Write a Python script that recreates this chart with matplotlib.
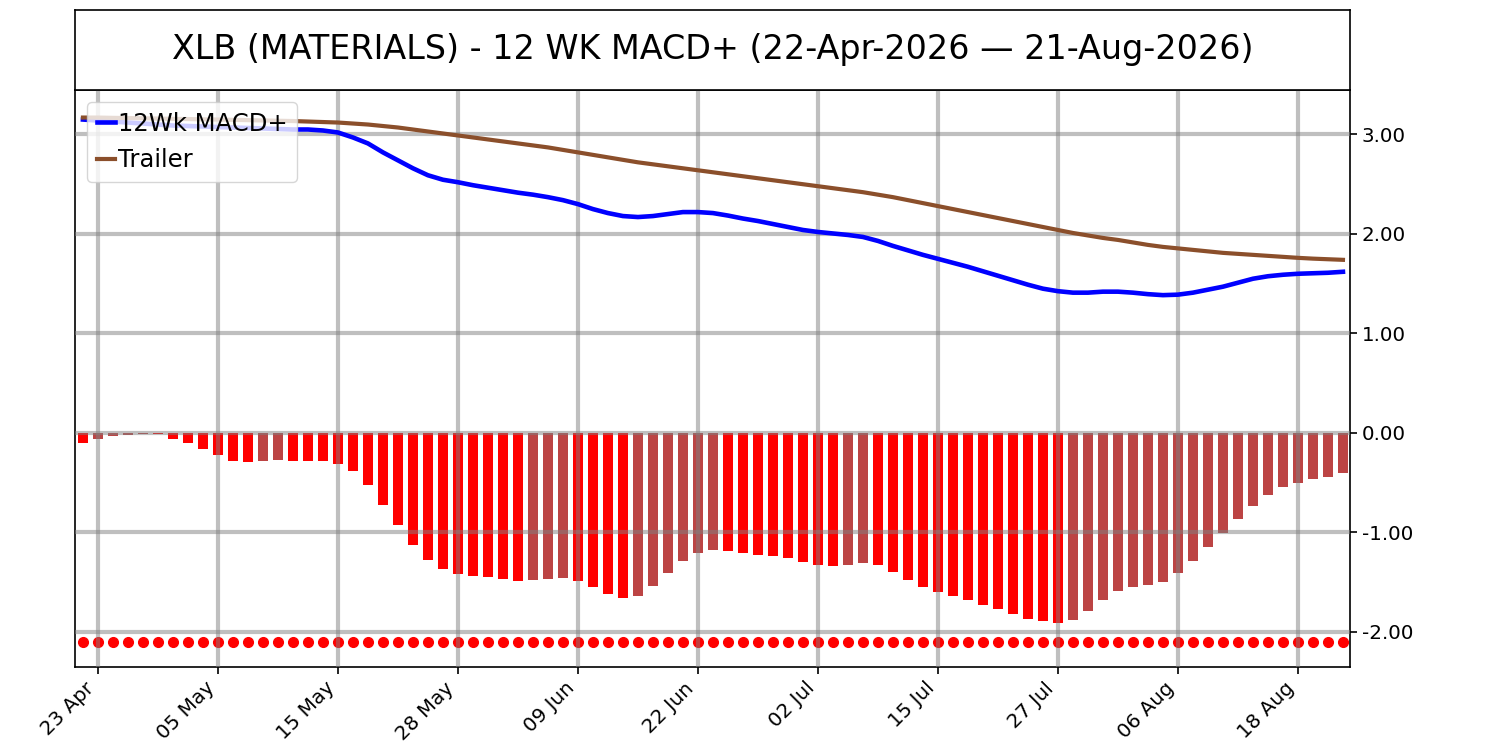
import matplotlib
matplotlib.use("Agg")
import matplotlib.pyplot as plt
import numpy as np

# ---------------- data ----------------
tick_labels = ["23 Apr", "05 May", "15 May", "28 May", "09 Jun", "22 Jun",
               "02 Jul", "15 Jul", "27 Jul", "06 Aug", "18 Aug"]
tick_index = [1, 9, 17, 25, 33, 41, 49, 57, 65, 73, 81]

macd = [3.15, 3.14, 3.13, 3.12, 3.11, 3.10, 3.09, 3.085, 3.08, 3.075,
        3.07, 3.065, 3.06, 3.055, 3.05, 3.05, 3.04, 3.02, 2.97, 2.91,
        2.82, 2.74, 2.66, 2.59, 2.545, 2.52, 2.49, 2.465, 2.44, 2.415,
        2.395, 2.37, 2.34, 2.30, 2.25, 2.21, 2.18, 2.17, 2.18, 2.20,
        2.22, 2.22, 2.21, 2.185, 2.155, 2.13, 2.10, 2.07, 2.04, 2.02,
        2.005, 1.99, 1.97, 1.93, 1.88, 1.835, 1.79, 1.75, 1.71, 1.67,
        1.625, 1.58, 1.535, 1.49, 1.45, 1.425, 1.41, 1.41, 1.42, 1.42,
        1.41, 1.395, 1.385, 1.39, 1.41, 1.44, 1.47, 1.51, 1.55, 1.575,
        1.59, 1.60, 1.605, 1.61, 1.62]

trailer = [3.17, 3.17, 3.167, 3.165, 3.163, 3.16, 3.157, 3.155, 3.152, 3.15,
           3.147, 3.144, 3.141, 3.138, 3.135, 3.13, 3.125, 3.12, 3.11, 3.10,
           3.085, 3.07, 3.05, 3.03, 3.01, 2.99, 2.97, 2.95, 2.93, 2.91,
           2.89, 2.87, 2.845, 2.82, 2.795, 2.77, 2.745, 2.72, 2.70, 2.68,
           2.66, 2.64, 2.62, 2.60, 2.58, 2.56, 2.54, 2.52, 2.50, 2.48,
           2.46, 2.44, 2.42, 2.395, 2.37, 2.34, 2.31, 2.28, 2.25, 2.22,
           2.19, 2.16, 2.13, 2.10, 2.07, 2.04, 2.01, 1.985, 1.96, 1.94,
           1.915, 1.89, 1.87, 1.855, 1.84, 1.825, 1.81, 1.80, 1.79, 1.78,
           1.77, 1.76, 1.752, 1.746, 1.74]

hist = [-0.10, -0.06, -0.03, -0.02, -0.01, -0.015, -0.06, -0.10, -0.16, -0.22,
        -0.28, -0.29, -0.28, -0.275, -0.28, -0.282, -0.285, -0.31, -0.38, -0.52,
        -0.72, -0.93, -1.13, -1.28, -1.37, -1.42, -1.44, -1.45, -1.47, -1.485,
        -1.48, -1.465, -1.46, -1.49, -1.55, -1.62, -1.66, -1.64, -1.54, -1.41,
        -1.29, -1.21, -1.18, -1.19, -1.21, -1.23, -1.24, -1.26, -1.30, -1.33,
        -1.34, -1.33, -1.31, -1.33, -1.40, -1.48, -1.55, -1.60, -1.64, -1.68,
        -1.73, -1.77, -1.82, -1.87, -1.89, -1.91, -1.88, -1.79, -1.68, -1.59,
        -1.55, -1.53, -1.50, -1.41, -1.29, -1.15, -1.01, -0.86, -0.73, -0.62,
        -0.54, -0.50, -0.46, -0.44, -0.40]

dot_level = -2.1
title = "XLB (MATERIALS) - 12 WK MACD+ (22-Apr-2026 \u2014 21-Aug-2026)"

# ---------------- plot ----------------
x = np.arange(len(hist))
hist_arr = np.array(hist)
prev = np.concatenate([[np.inf], hist_arr[:-1]])
colors = np.where(hist_arr < prev, "#FF0000", "#BC4444")

fig = plt.figure(figsize=(15, 7.5), dpi=100)
ax = fig.add_axes([0.05, 0.111, 0.85, 0.769])
tax = fig.add_axes([0.05, 0.88, 0.85, 0.1067])
tax.set_xticks([])
tax.set_yticks([])
for s in tax.spines.values():
    s.set_linewidth(1.2)
tax.text(0.5, 0.5, title, ha="center", va="center", fontsize=24,
         transform=tax.transAxes)

ax.bar(x, hist, width=0.72, color=colors, zorder=1)
ax.plot(x, [dot_level] * len(x), linestyle="none", marker="o",
        markersize=7, color="#FF0000", zorder=2)
ax.plot(x, macd, color="#0000FF", linewidth=3.3, label="12Wk MACD+", zorder=3)
ax.plot(x, trailer, color="#8B4F2B", linewidth=3, label="Trailer", zorder=3)

ax.set_xlim(-0.53, 84.47)
ax.set_ylim(-2.35, 3.447)
ax.set_yticks([3, 2, 1, 0, -1, -2])
ax.set_yticklabels(["%.2f" % v for v in [3, 2, 1, 0, -1, -2]])
ax.yaxis.tick_right()
ax.set_xticks(tick_index)
ax.set_xticklabels(tick_labels, rotation=45, ha="right")
ax.tick_params(axis="both", labelsize=14.3, length=5, width=1.2)
ax.set_axisbelow(False)
ax.grid(True, color="#808080", alpha=0.5, linewidth=3, zorder=4)
for s in ax.spines.values():
    s.set_linewidth(1.2)

leg = ax.legend(loc="upper left", fontsize=17.5, handlelength=0.75,
                handletextpad=0.1, framealpha=0.8)

fig.savefig("out.png", dpi=100)
